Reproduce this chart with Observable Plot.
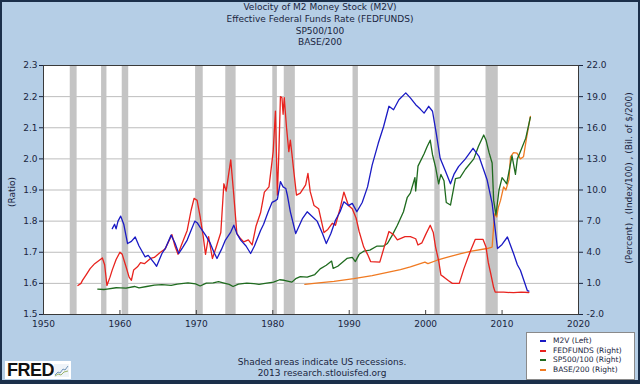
<!DOCTYPE html>
<html>
<head>
<meta charset="utf-8">
<script src="https://cdn.jsdelivr.net/npm/d3@7"></script>
<script src="https://cdn.jsdelivr.net/npm/@observablehq/plot@0.6"></script>
<style>
  html, body { margin: 0; padding: 0; background: #b5cee6; }
  #wrap { position: relative; width: 640px; height: 384px; background: #b5cee6; overflow: hidden;
          font-family: "DejaVu Sans", Verdana, sans-serif; color: #1a2540; }
  #border { position: absolute; left: 0; top: 0; width: 640px; height: 384px; box-sizing: border-box;
            border: 2px solid #1b2f4a; border-bottom-width: 4px; pointer-events: none; }
  .title { position: absolute; left: 0; width: 640px; text-align: center; font-size: 9px; line-height: 11px; }
  .note { position: absolute; left: 0; width: 644px; text-align: center; font-size: 9px; line-height: 11px; }
  #ylabL { position: absolute; left: 12px; top: 192px; transform: translate(-50%, -50%) rotate(-90deg); font-size: 9px; white-space: nowrap; }
  #ylabR { position: absolute; left: 629px; top: 178px; transform: translate(-50%, -50%) rotate(-90deg); font-size: 9px; white-space: nowrap; }
  #legend { position: absolute; left: 526px; top: 332px; width: 109px; height: 48px; background: #fff; border: 1px solid #8a8a8a;
            font-size: 7.5px; line-height: 9.6px; padding-top: 3px; box-sizing: border-box; }
  #legend div { position: relative; padding-left: 26px; white-space: nowrap; }
  #legend span { position: absolute; left: 13px; top: 4px; width: 6px; height: 2px; }
  #logo { position: absolute; left: 5px; top: 361px; width: 66px; height: 18px; background: #fff; }
  #logo b { position: absolute; left: 2px; top: -1px; font-family: "Liberation Sans", Arial, sans-serif; font-weight: 900; font-size: 18px; color: #111; letter-spacing: -0.5px; }
</style>
</head>
<body>
<div id="wrap">
  <div id="chart" style="position:absolute;left:0;top:0;"></div>
  <div class="title" style="top:2px">Velocity of M2 Money Stock (M2V)</div>
  <div class="title" style="top:14px">Effective Federal Funds Rate (FEDFUNDS)</div>
  <div class="title" style="top:26px">SP500/100</div>
  <div class="title" style="top:37px">BASE/200</div>
  <div id="ylabL">(Ratio)</div>
  <div id="ylabR">(Percent) , (Index/100) , (Bil. of $/200)</div>
  <div class="note" style="top:357px">Shaded areas indicate US recessions.</div>
  <div class="note" style="top:368px">2013 research.stlouisfed.org</div>
  <div id="logo"><b>FRED</b>
    <svg style="position:absolute;left:49px;top:3px" width="15" height="13">
      <rect x="0" y="0" width="15" height="13" fill="#eef3f8"/>
      <polyline points="1,11 4,8 6,9 9,5 11,6 14,2" fill="none" stroke="#6f93b8" stroke-width="1"/>
      <polyline points="1,12 4,10 7,11 10,8 14,7" fill="none" stroke="#9bb36b" stroke-width="1"/>
    </svg>
  </div>
  <div id="legend"></div>
  <div id="border"></div>
</div>
<script>
// ---------- data ----------
const leftDomain = [1.5, 2.3];
const rightDomain = [-2, 22];
const xDomain = [1950, 2020];
const xTicks = [1950, 1960, 1970, 1980, 1990, 2000, 2010, 2020];
const leftTicks = [1.5, 1.6, 1.7, 1.8, 1.9, 2.0, 2.1, 2.2, 2.3];

const recessionStart = [1953.5, 1957.6, 1960.3, 1969.9, 1973.85, 1980.0, 1981.5, 1990.5, 2001.2, 2007.9];
const recessionEnd   = [1954.4, 1958.3, 1961.15, 1970.9, 1975.2, 1980.6, 1982.95, 1991.2, 2001.9, 2009.5];

const m2vYears = [1959.0,1959.3,1959.5,1959.75,1960.1,1960.5,1961.0,1961.5,1962.0,1962.5,1963.3,1963.7,1964.5,1964.8,1965.5,1966.0,1966.7,1967.2,1967.7,1968.2,1968.8,1969.3,1969.8,1970.1,1970.5,1971.2,1971.8,1972.3,1972.7,1973.3,1973.8,1974.5,1974.9,1975.3,1975.8,1976.5,1977.1,1977.6,1978.4,1978.8,1979.4,1979.9,1980.3,1980.6,1981.0,1981.35,1981.7,1981.9,1982.3,1983.0,1983.9,1984.5,1985.4,1985.8,1986.5,1987.0,1987.6,1988.2,1988.8,1989.3,1989.9,1990.4,1991.0,1991.7,1992.4,1993.0,1993.8,1994.5,1995.2,1995.8,1996.5,1997.4,1998.0,1998.7,1999.3,1999.8,2000.4,2000.9,2001.4,2001.9,2002.6,2003.25,2003.7,2004.3,2005.2,2006.2,2007.0,2008.05,2008.7,2009.4,2010.0,2010.7,2011.5,2012.0,2012.4,2013.3,2013.5];
const m2vValues = [1.776,1.79,1.775,1.80,1.816,1.79,1.728,1.735,1.749,1.72,1.685,1.69,1.665,1.655,1.696,1.715,1.755,1.73,1.696,1.715,1.739,1.77,1.80,1.795,1.78,1.755,1.73,1.70,1.68,1.71,1.739,1.765,1.787,1.76,1.739,1.72,1.696,1.72,1.77,1.79,1.83,1.86,1.865,1.87,1.927,1.91,1.905,1.884,1.83,1.76,1.809,1.83,1.809,1.80,1.76,1.728,1.76,1.803,1.83,1.862,1.85,1.857,1.83,1.86,1.91,1.98,2.05,2.104,2.169,2.158,2.19,2.212,2.196,2.174,2.16,2.147,2.169,2.153,2.08,2.002,1.96,1.92,1.95,1.975,2.0,2.034,2.007,1.932,1.857,1.712,1.725,1.749,1.696,1.66,1.642,1.577,1.575];

const fedYears = [1954.5,1954.9,1955.1,1955.6,1956.1,1956.7,1957.7,1958.0,1958.3,1958.7,1959.0,1959.5,1960.0,1960.3,1960.8,1961.2,1961.5,1961.8,1962.3,1962.7,1963.2,1964.0,1964.5,1965.3,1965.9,1966.8,1967.2,1967.6,1968.0,1968.8,1969.3,1969.7,1970.1,1970.5,1970.9,1971.2,1971.6,1972.1,1972.6,1973.2,1973.6,1973.9,1974.5,1974.9,1975.3,1975.8,1976.2,1976.8,1977.3,1977.8,1978.4,1978.9,1979.5,1979.7,1980.05,1980.35,1980.6,1980.8,1981.0,1981.2,1981.35,1981.5,1981.8,1982.1,1982.3,1982.5,1982.75,1983.1,1983.6,1984.3,1984.6,1984.9,1985.4,1986.0,1986.7,1987.2,1987.8,1988.2,1988.8,1989.3,1989.9,1990.4,1990.9,1991.3,1991.9,1992.4,1992.8,1994.0,1994.5,1995.2,1995.8,1996.3,1997.3,1998.0,1998.7,1999.0,1999.5,2000.0,2000.6,2001.0,2001.3,2001.7,2002.0,2002.4,2003.0,2003.5,2004.4,2005.0,2005.9,2006.5,2007.5,2007.9,2008.2,2008.5,2008.9,2009.1,2010.2,2011.5,2012.5,2013.5];
const fedValues = [0.8,1.0,1.29,1.85,2.42,2.9,3.45,2.8,0.8,1.6,2.3,3.3,4.0,3.8,2.6,1.6,1.3,2.3,2.6,3.0,2.9,3.4,3.5,4.0,4.3,5.7,4.6,3.8,4.6,6.1,8.0,9.2,9.0,7.4,5.5,3.8,5.5,3.4,4.5,5.9,10.6,9.9,12.9,9.5,5.8,5.3,5.0,5.2,4.7,6.5,7.8,9.8,10.3,11.5,13.7,17.6,9.5,13.7,19.0,18.9,17.3,18.9,16.0,13.7,14.8,13.5,11.8,9.5,9.7,10.5,11.6,9.84,8.5,8.2,5.9,6.2,6.8,6.6,8.2,9.8,8.5,8.2,7.3,6.0,4.5,3.8,3.1,3.05,4.3,6.0,5.7,5.2,5.5,5.5,5.3,4.7,4.9,5.7,6.6,5.9,4.5,3.2,1.8,1.6,1.25,1.0,1.0,2.4,4.2,5.25,5.25,4.5,3.0,2.0,0.6,0.16,0.15,0.1,0.15,0.12];

const spYears = [1957.1,1957.9,1958.3,1959.5,1960.1,1960.8,1961.9,1962.5,1963.5,1964.5,1965.5,1966.7,1967.5,1968.9,1969.9,1970.5,1971.3,1972.2,1972.9,1973.5,1974.3,1974.8,1975.5,1976.6,1977.5,1978.2,1979.0,1980.1,1980.9,1981.5,1982.5,1983.0,1983.6,1984.5,1985.5,1986.2,1987.0,1987.7,1987.9,1988.5,1989.7,1990.4,1990.8,1991.3,1991.9,1992.7,1993.65,1994.5,1995.0,1995.6,1996.3,1997.1,1997.6,1998.0,1998.6,1998.7,1999.0,1999.8,2000.2,2000.6,2000.9,2001.3,2001.7,2002.0,2002.4,2002.7,2003.25,2003.9,2004.5,2005.2,2006.3,2006.9,2007.6,2007.9,2008.3,2008.7,2008.9,2009.2,2009.6,2010.0,2010.4,2010.6,2011.3,2011.75,2012.0,2012.4,2013.1,2013.7];
const spValues = [0.45,0.41,0.45,0.58,0.57,0.55,0.70,0.57,0.70,0.83,0.88,0.80,0.93,1.05,0.95,0.75,1.02,1.05,1.17,1.05,0.90,0.70,0.92,1.02,0.98,0.90,0.99,1.13,1.35,1.30,1.12,1.45,1.65,1.60,1.85,2.40,2.75,3.15,2.45,2.65,3.40,3.50,3.10,3.80,4.10,4.20,4.60,4.60,4.84,5.60,6.60,7.90,9.30,9.70,11.2,9.9,12.3,13.5,14.2,14.8,13.4,12.2,10.6,11.5,10.9,8.8,8.55,11.1,11.2,12.0,13.0,14.2,15.3,14.8,13.6,12.6,9.0,7.6,10.0,11.2,10.8,10.6,13.3,11.5,13.0,13.7,15.0,17.0];

const baseYears = [1984.2,1986.0,1988.0,1990.6,1993.0,1995.0,1996.7,1998.0,1999.9,2000.3,2001.5,2003.0,2004.6,2006.0,2008.05,2008.7,2008.85,2009.0,2009.3,2009.5,2009.8,2010.2,2010.5,2010.9,2011.1,2011.5,2011.95,2012.4,2012.8,2013.2,2013.7];
const baseValues = [0.9,1.05,1.2,1.45,1.75,2.05,2.33,2.58,3.05,2.9,3.23,3.55,3.87,4.1,4.36,4.5,6.0,7.7,7.4,8.3,9.0,10.3,10.0,11.0,13.2,13.6,13.55,13.0,13.2,15.0,17.1];

const seriesNames = ["M2V (Left)", "FEDFUNDS (Right)", "SP500/100 (Right)", "BASE/200 (Right)"];
const seriesColors = ["#1a1ac4", "#e8231e", "#1f6b1f", "#f07a22"];

// ---------- build ----------
const toLeft = v => leftDomain[0] + (v - rightDomain[0]) / (rightDomain[1] - rightDomain[0]) * (leftDomain[1] - leftDomain[0]);
const toRight = d => rightDomain[0] + (d - leftDomain[0]) / (leftDomain[1] - leftDomain[0]) * (rightDomain[1] - rightDomain[0]);

const recessions = recessionStart.map((s, i) => ({start: s, end: recessionEnd[i]}));
const mk = (ys, vs, right) => ys.map((y, i) => ({x: y, y: right ? toLeft(vs[i]) : vs[i]}));
const m2v = mk(m2vYears, m2vValues, false);
const fed = mk(fedYears, fedValues, true);
const sp = mk(spYears, spValues, true);
const base = mk(baseYears, baseValues, true);

const chart = Plot.plot({
  width: 640,
  height: 384,
  marginLeft: 43,
  marginRight: 62,
  marginTop: 65,
  marginBottom: 70,
  style: {background: "transparent", fontFamily: "DejaVu Sans, Verdana, sans-serif", fontSize: "9px", color: "#1a2540"},
  x: {domain: xDomain},
  y: {domain: leftDomain},
  marks: [
    Plot.rect([0], {x1: xDomain[0], x2: xDomain[1], y1: leftDomain[0], y2: leftDomain[1], fill: "#fff"}),
    Plot.gridY(leftTicks.slice(1, -1), {stroke: "#bdbdbd", strokeOpacity: 1, strokeWidth: 1}),
    Plot.rect(recessions, {x1: "start", x2: "end", y1: leftDomain[0], y2: leftDomain[1], fill: "#c4c4c4"}),
    Plot.ruleX(xTicks.slice(1, -1), {stroke: "#444", insetTop: 245}),
    Plot.line(base, {x: "x", y: "y", stroke: seriesColors[3], strokeWidth: 1.3}),
    Plot.line(sp, {x: "x", y: "y", stroke: seriesColors[2], strokeWidth: 1.3}),
    Plot.line(fed, {x: "x", y: "y", stroke: seriesColors[1], strokeWidth: 1.3}),
    Plot.line(m2v, {x: "x", y: "y", stroke: seriesColors[0], strokeWidth: 1.3}),
    Plot.frame({stroke: "#3a3a3a"}),
    Plot.axisX({ticks: xTicks, tickFormat: d => String(d), tickSize: 0, tickPadding: 6, label: null}),
    Plot.axisY({anchor: "left", ticks: leftTicks, tickFormat: d3.format(".1f"), tickSize: 4, tickPadding: 2, label: null}),
    Plot.axisY({anchor: "right", ticks: leftTicks, tickFormat: d => toRight(d).toFixed(1), tickSize: 4, tickPadding: 4, label: null})
  ]
});
document.getElementById("chart").appendChild(chart);

const legend = document.getElementById("legend");
seriesNames.forEach((n, i) => {
  const row = document.createElement("div");
  const sw = document.createElement("span");
  sw.style.background = seriesColors[i];
  row.appendChild(sw);
  row.appendChild(document.createTextNode(n));
  legend.appendChild(row);
});
</script>
</body>
</html>
